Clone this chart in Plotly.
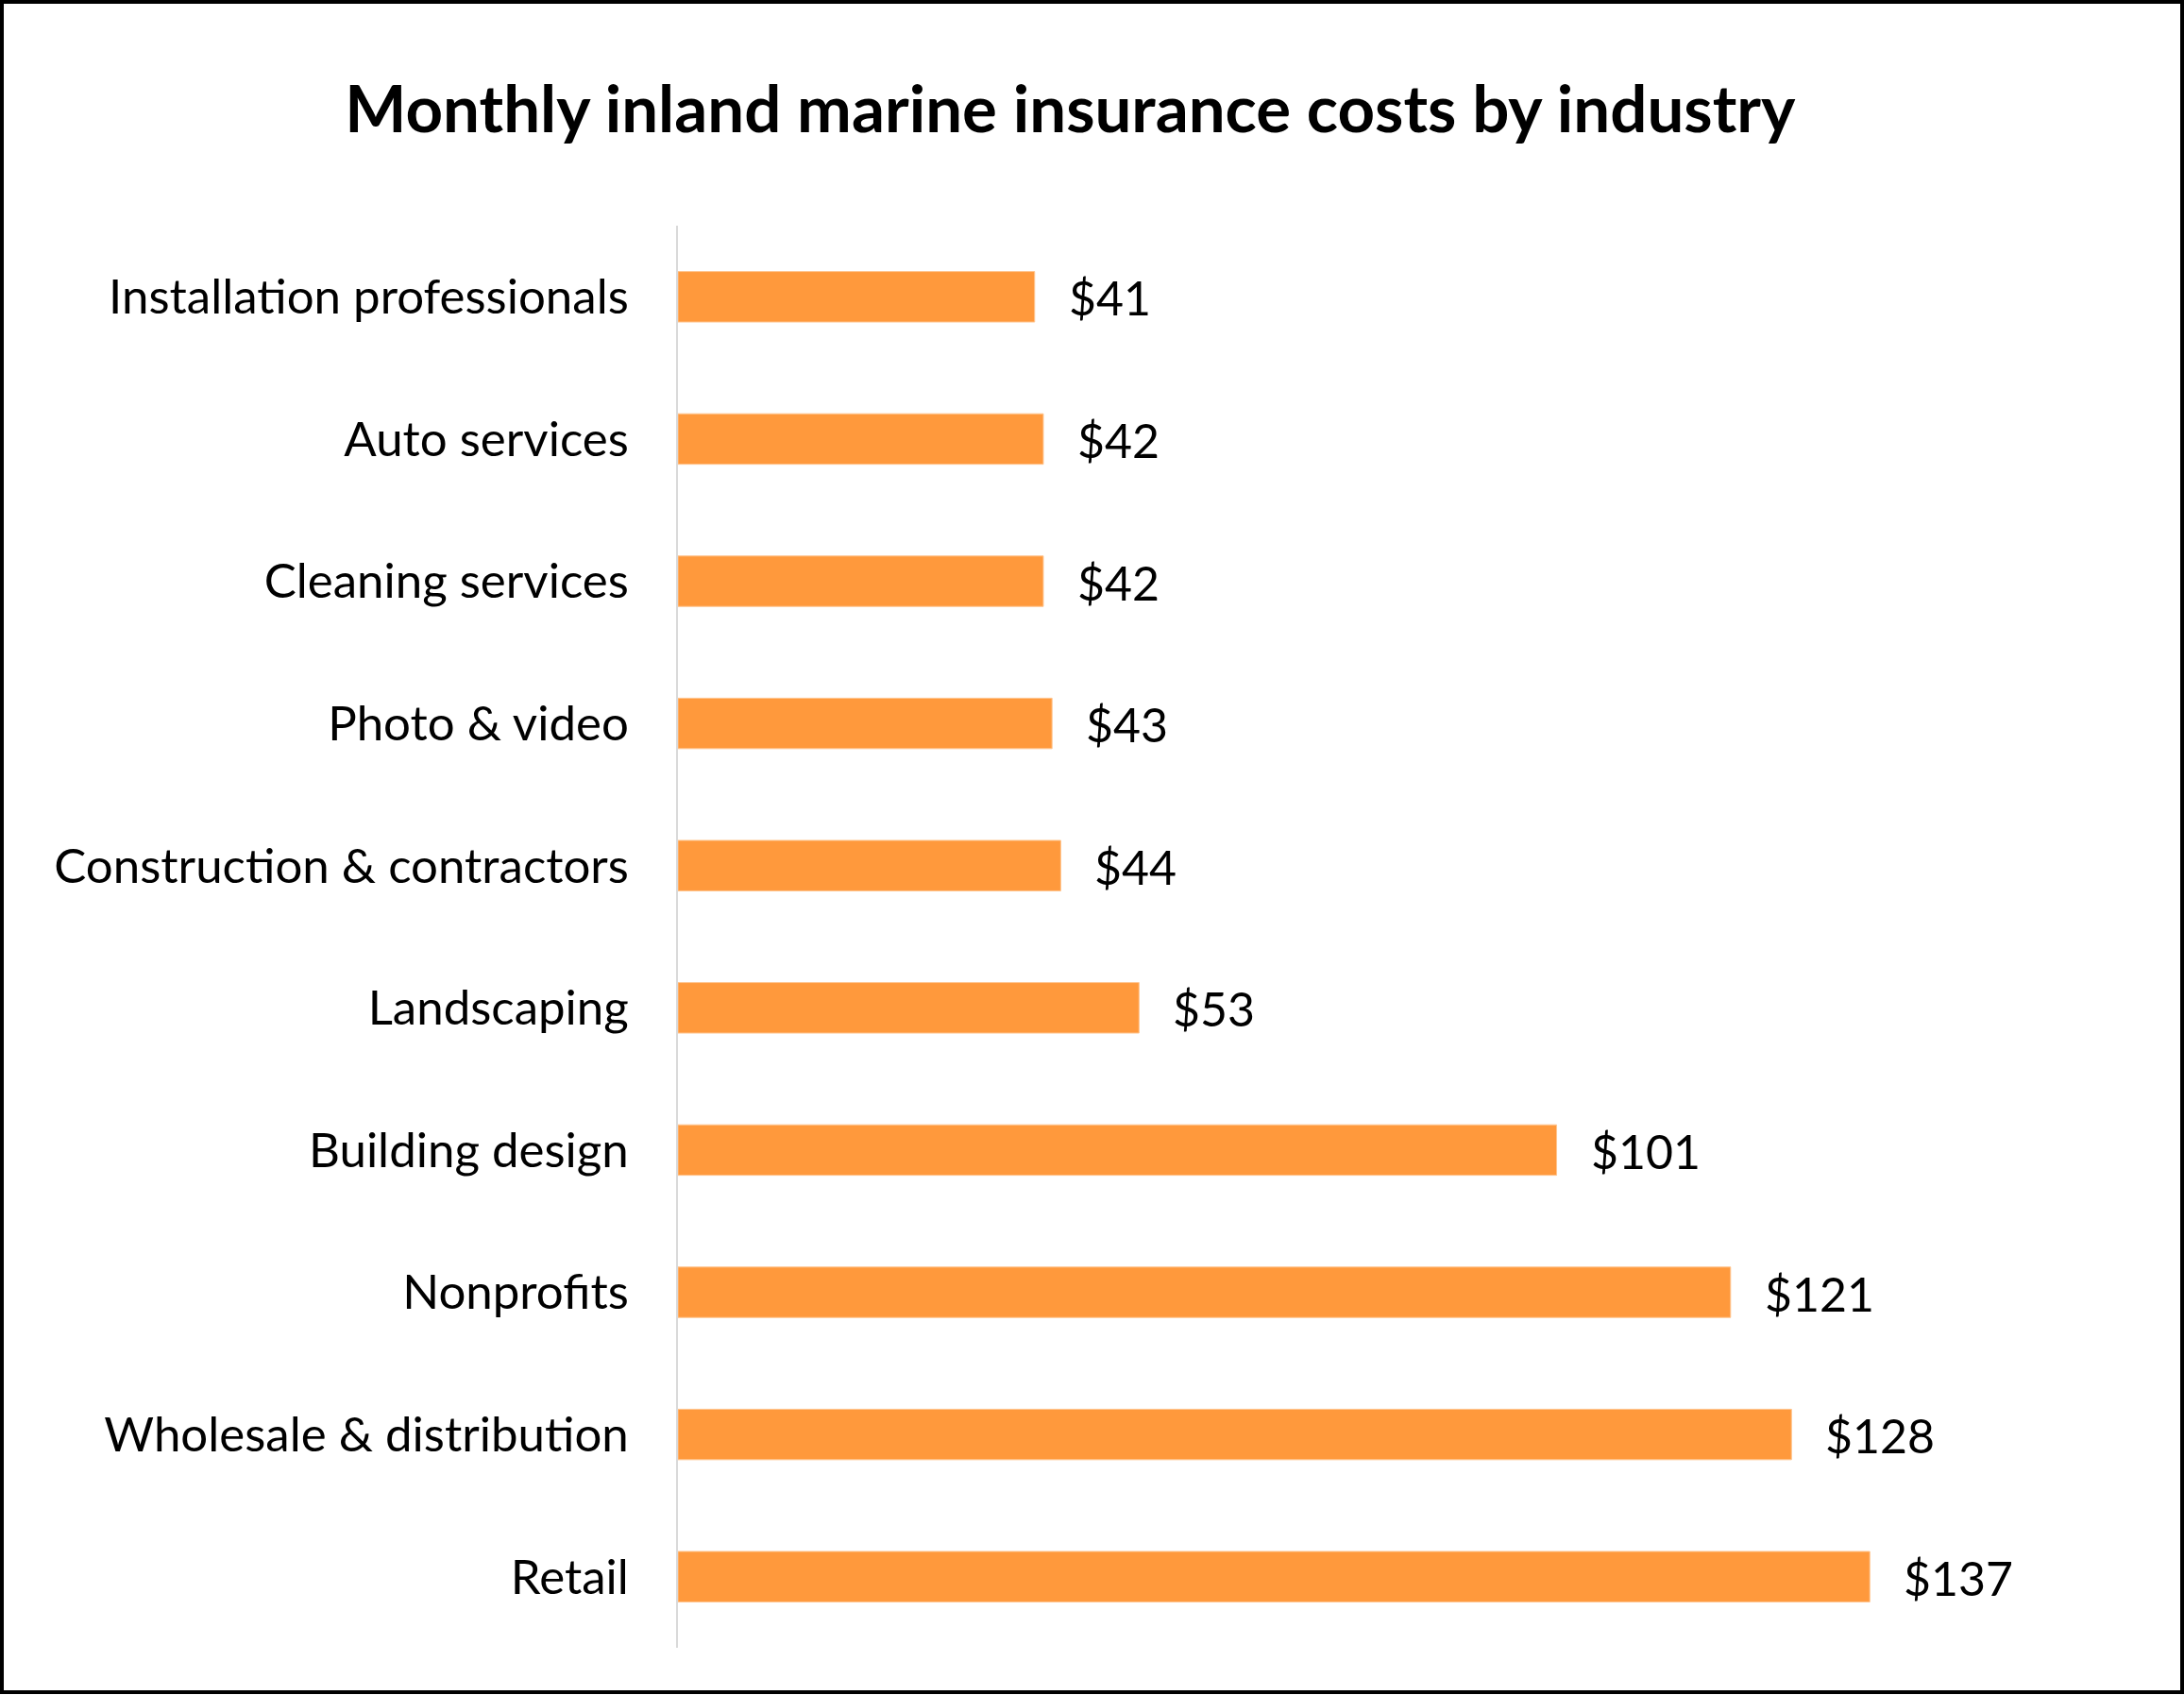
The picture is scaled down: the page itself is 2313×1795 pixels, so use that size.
import plotly.graph_objects as go

categories = [
    "Installation professionals",
    "Auto services",
    "Cleaning services",
    "Photo & video",
    "Construction & contractors",
    "Landscaping",
    "Building design",
    "Nonprofits",
    "Wholesale & distribution",
    "Retail",
]
values = [41, 42, 42, 43, 44, 53, 101, 121, 128, 137]
value_labels = ["$" + str(v) for v in values]
title_text = "Monthly inland marine insurance costs by industry"

W, H = 2313, 1795
ML, MR, MT, MB = 718, 213, 239, 50
FONT = "Lato"

fig = go.Figure()
fig.add_trace(go.Bar(
    x=values,
    y=categories,
    orientation="h",
    marker=dict(color="#FF993C", line=dict(color="#FFC58F", width=1)),
    hoverinfo="skip",
))

for c, v, t in zip(categories, values, value_labels):
    fig.add_annotation(
        x=v, y=c, text=t, showarrow=False,
        xanchor="left", yanchor="middle", xshift=34, yshift=-1,
        font=dict(family=FONT, size=50, color="#000000"),
    )

pw = W - ML - MR
ph = H - MT - MB
fig.add_shape(
    type="rect", xref="paper", yref="paper",
    x0=(2 - ML) / pw, x1=(W - 2 - ML) / pw,
    y0=-(MB - 3) / ph, y1=1 + (MT - 2) / ph,
    line=dict(color="#000000", width=4),
    fillcolor="rgba(0,0,0,0)",
)

fig.update_layout(
    width=W, height=H,
    margin=dict(l=ML, r=MR, t=MT, b=MB),
    paper_bgcolor="#FFFFFF",
    plot_bgcolor="#FFFFFF",
    bargap=0.645,
    showlegend=False,
    title=dict(
        text="<b>" + title_text + "</b>",
        x=0.49, xref="container", xanchor="center",
        y=1 - 116 / H, yref="container", yanchor="middle",
        font=dict(family=FONT, size=69, color="#000000"),
    ),
    xaxis=dict(
        range=[0, 150], showgrid=False, zeroline=False,
        showticklabels=False, showline=False, ticks="",
    ),
    yaxis=dict(
        categoryorder="array", categoryarray=categories,
        autorange="reversed",
        showgrid=False, zeroline=False,
        showline=True, linecolor="#D9D9D9", linewidth=2,
        ticks="", ticklabelstandoff=40,
        tickfont=dict(family=FONT, size=51, color="#000000"),
    ),
)

fig.write_html("out.html")
